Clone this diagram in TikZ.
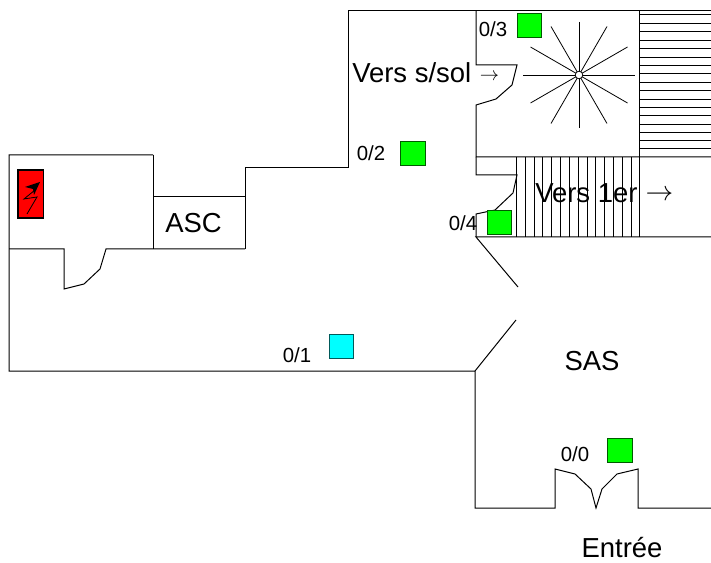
\documentclass[tikz,border=0pt]{standalone}
\usepackage{fontspec}
\setmainfont{Liberation Sans}
\definecolor{sgreen}{RGB}{0,255,0}
\definecolor{sgreenedge}{RGB}{0,90,0}
\definecolor{scyan}{RGB}{0,255,255}
\definecolor{scyanedge}{RGB}{0,90,90}
\definecolor{sred}{RGB}{255,0,0}
\begin{document}
\begin{tikzpicture}[x=0.75pt,y=-0.75pt,
  wall/.style={draw=black,line width=0.75pt,line join=miter},
  thin wall/.style={draw=black,line width=0.6pt},
  sensor/.style={draw=sgreenedge,line width=0.75pt,fill=sgreen},
  lbl/.style={font=\fontsize{15.3pt}{18pt}\selectfont,inner sep=0pt,text=black},
  big/.style={font=\fontsize{20.6pt}{24pt}\selectfont,inner sep=0pt,text=black}]
\useasboundingbox (0,0) rectangle (711,563);
% walls
\draw[wall] (639,11) -- (348,11) -- (348,168) -- (245,168) -- (245,249);
\draw[wall] (711,11) -- (639,11);
\draw[wall] (153,155) -- (9,155) -- (9,371) -- (475,371) -- (475,508) -- (555,508) -- (555,469) -- (575,474) -- (591,489) -- (596,508) -- (602,489) -- (617,474) -- (638,469) -- (638,508) -- (711,508);
\draw[wall] (153,155) -- (153,249);
\draw[wall] (153,197) -- (245,197);
\draw[wall] (9,249) -- (64,249) -- (64,289) -- (84,284) -- (100,269) -- (106,249) -- (245,249);
\draw[wall] (475,371) -- (516,320);
\draw[wall] (518,287) -- (476,237) -- (711,237);
% stair cage
\draw[wall] (476,11) -- (476,65) -- (517,65) -- (512,85) -- (496,99) -- (476,105) -- (476,157) -- (711,157);
\draw[wall] (476,157) -- (476,175) -- (517,175) -- (513,193) -- (495,210) -- (476,214) -- (476,237);
\draw[wall] (639,11) -- (639,237);
\foreach \y in {14.3,23,31.3,40,48.3,57,65,73.3,82,90,99,107.3,115.5,124,132,140.5,148.5}
  \draw[thin wall] (639,\y) -- (711,\y);
\foreach \x in {516,525,534,542.5,551,560,569,578,587,595.5,604,613,622,631}
  \draw[thin wall] (\x,157) -- (\x,237);
% spiral stair
\draw[thin wall] (523,75) -- (635,75);
\draw[thin wall] (579,22) -- (579,128);
\foreach \a in {30,60,120,150,210,240,300,330}
  \draw[thin wall] (579,75) -- ++(\a:56);
\filldraw[thin wall,fill=white] (579,75) circle (3.8);
% sensors
\node[lbl] (l3) at (493,29) {0/3};
\filldraw[sensor] (517,14) rectangle (541.5,38);
\node[lbl] (l2) at (371,153) {0/2};
\filldraw[sensor] (400.5,142) rectangle (425,166);
\node[lbl] (l4) at (463,223) {0/4};
\filldraw[sensor] (487,211) rectangle (511.5,235);
\node[lbl] (l0) at (575,454) {0/0};
\filldraw[sensor] (607,438) rectangle (632,462);
\node[lbl] (l1) at (297,355) {0/1};
\filldraw[draw=scyanedge,line width=0.75pt,fill=scyan] (329,334) rectangle (353.5,358);
% alarm panel
\filldraw[draw=black,line width=1pt,fill=sred] (18,170) rectangle (43.5,218);
\draw[black,line width=0.6pt,line join=miter] (27,214) -- (37,197) -- (24,199) -- (35,190) -- (38,184);
\fill[black] (40,182) -- (25,187) -- (33,189) -- (34,195) -- cycle;
% text
\node[big,anchor=west] (t1) at (352,73) {Vers s/sol};
\node[anchor=center,inner sep=0pt,font=\fontsize{14pt}{16pt}\selectfont] (t1a) at (489.5,76.5) {$\rightarrow$};
\node[big,anchor=west] (t2) at (535,193) {Vers 1er};
\node[anchor=center,inner sep=0pt,font=\fontsize{21pt}{24pt}\selectfont] (t2a) at (659.5,195) {$\rightarrow$};
\node[big] (t3) at (193.5,223) {ASC};
\node[big] (t4) at (592,361) {SAS};
\node[big] (t5) at (622,548) {Entrée};
\end{tikzpicture}
\end{document}
